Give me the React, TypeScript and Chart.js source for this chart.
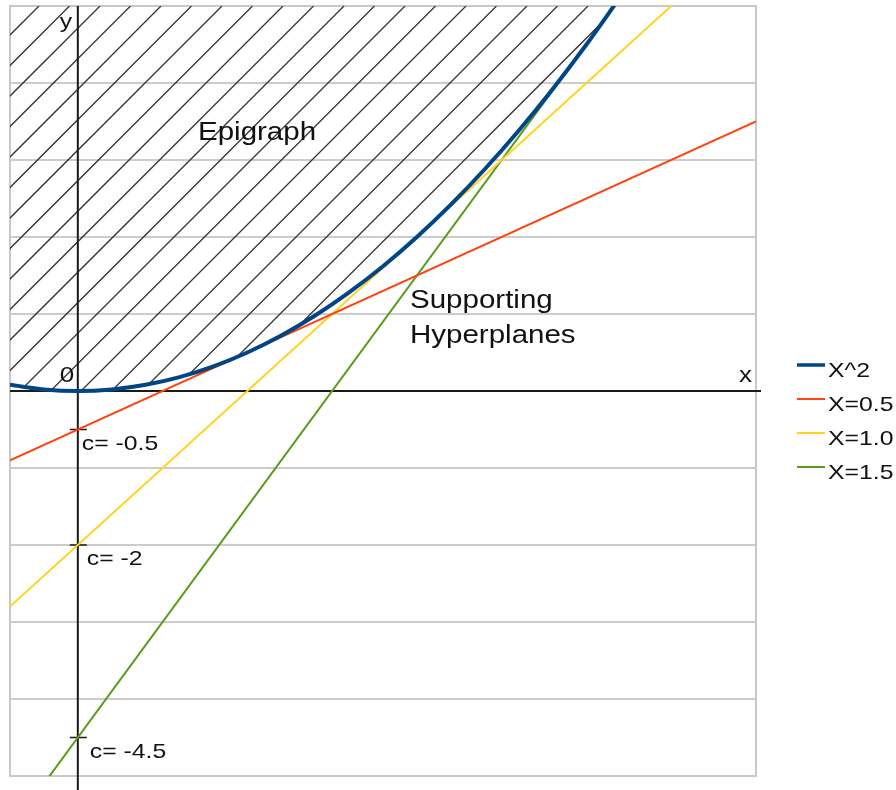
import React, { useEffect, useRef } from "react";
import { Chart, registerables } from "chart.js";

Chart.register(...registerables);

// ---- data ----
const curveX = [-0.2, -0.1, 0, 0.1, 0.2, 0.3, 0.4, 0.5, 0.6, 0.7, 0.8, 0.9, 1.0, 1.1, 1.2, 1.3, 1.4, 1.5, 1.6];
const curveY = [0.08, 0.02, 0, 0.02, 0.08, 0.18, 0.32, 0.5, 0.72, 0.98, 1.28, 1.62, 2.0, 2.42, 2.88, 3.38, 3.92, 4.5, 5.12];
const lineX = [-0.2, 2.0];
const lineY05 = [-0.9, 3.5];
const lineY10 = [-2.8, 6.0];
const lineY15 = [-5.7, 7.5];
const seriesNames = ["X^2", "X=0.5", "X=1.0", "X=1.5"];
const seriesColors = ["#004586", "#ff420e", "#ffd320", "#579d1c"];
const interceptValues = [-0.5, -2, -4.5];
const interceptLabels = ["c= -0.5", "c= -2", "c= -4.5"];
const xRange = [-0.2, 2.0];
const yRange = [-5, 5];

const FONT = '"Liberation Sans", Arial, sans-serif';
const SX = 1.18;

function drawText(ctx: CanvasRenderingContext2D, text: string, x: number, y: number, size: number) {
  ctx.save();
  ctx.font = `${size}px ${FONT}`;
  ctx.fillStyle = "#111";
  ctx.textBaseline = "alphabetic";
  ctx.textAlign = "left";
  ctx.translate(x, y);
  ctx.scale(SX, 1);
  ctx.fillText(text, 0, 0);
  ctx.restore();
}

const decorPlugin = {
  id: "decor",
  beforeDatasetsDraw(chart: any) {
    const ctx: CanvasRenderingContext2D = chart.ctx;
    const { left, right, top, bottom } = chart.chartArea;
    const xs = chart.scales.x;
    const ys = chart.scales.y;

    // plot border
    ctx.save();
    ctx.strokeStyle = "#c8c8c8";
    ctx.lineWidth = 2;
    ctx.strokeRect(left, top, right - left, bottom - top);
    ctx.restore();

    // hatched epigraph
    ctx.save();
    ctx.beginPath();
    ctx.rect(left, top, right - left, bottom - top);
    ctx.clip();
    ctx.beginPath();
    ctx.moveTo(left, top - 5);
    for (let i = 0; i < curveX.length; i++) {
      const px = xs.getPixelForValue(curveX[i]);
      const py = ys.getPixelForValue(curveY[i]);
      ctx.lineTo(px, py);
    }
    ctx.lineTo(xs.getPixelForValue(curveX[curveX.length - 1]), top - 5);
    ctx.closePath();
    ctx.clip();
    ctx.strokeStyle = "#333333";
    ctx.lineWidth = 1.3;
    const spacing = 30.5;
    const c0 = 106;
    for (let k = -20; k < 60; k++) {
      const c = c0 + spacing * k;
      ctx.beginPath();
      ctx.moveTo(c - bottom, bottom);
      ctx.lineTo(c - top, top);
      ctx.stroke();
    }
    ctx.restore();

    // axes lines
    const x0 = xs.getPixelForValue(0);
    const y0 = ys.getPixelForValue(0);
    ctx.save();
    ctx.strokeStyle = "#1a1a1a";
    ctx.lineWidth = 2;
    ctx.beginPath();
    ctx.moveTo(left, y0);
    ctx.lineTo(right + 5, y0);
    ctx.moveTo(x0, top);
    ctx.lineTo(x0, bottom + 14);
    ctx.stroke();
    // intercept tick marks
    ctx.lineWidth = 1.5;
    interceptValues.forEach((v) => {
      const py = ys.getPixelForValue(v);
      ctx.beginPath();
      ctx.moveTo(x0 - 8, py);
      ctx.lineTo(x0 + 9, py);
      ctx.stroke();
    });
    ctx.restore();
  },
  afterDatasetsDraw(chart: any) {
    const ctx: CanvasRenderingContext2D = chart.ctx;
    const { right } = chart.chartArea;
    const xs = chart.scales.x;
    const ys = chart.scales.y;
    const x0 = xs.getPixelForValue(0);
    const y0 = ys.getPixelForValue(0);

    drawText(ctx, "y", x0 - 18, 28, 21);
    drawText(ctx, "0", x0 - 18, y0 - 9, 22);
    drawText(ctx, "x", right - 17, y0 - 9, 22);

    const offs = [4, 9, 12];
    interceptValues.forEach((v, i) => {
      const py = ys.getPixelForValue(v);
      drawText(ctx, interceptLabels[i], x0 + offs[i], py + 20, 21);
    });

    drawText(ctx, "Epigraph", 198, 140, 25);
    drawText(ctx, "Supporting", 410, 308, 25);
    drawText(ctx, "Hyperplanes", 410, 343, 25);

    // legend
    const legY = [365, 399, 433, 467];
    seriesNames.forEach((name, i) => {
      ctx.save();
      ctx.strokeStyle = seriesColors[i];
      ctx.lineWidth = i === 0 ? 3.5 : 2;
      ctx.beginPath();
      ctx.moveTo(797, legY[i]);
      ctx.lineTo(825, legY[i]);
      ctx.stroke();
      ctx.restore();
      drawText(ctx, name, 828, legY[i] + 12, 21);
    });
  },
};

export default function App() {
  const ref = useRef<HTMLCanvasElement | null>(null);
  useEffect(() => {
    if (!ref.current) return;
    const mk = (xv: number[], yv: number[]) => xv.map((x, i) => ({ x, y: yv[i] }));
    const chart = new Chart(ref.current, {
      type: "line",
      data: {
        datasets: [
          {
            label: seriesNames[0],
            data: mk(curveX, curveY),
            borderColor: seriesColors[0],
            borderWidth: 4,
            cubicInterpolationMode: "monotone",
            pointRadius: 0,
            fill: false,
          },
          {
            label: seriesNames[1],
            data: mk(lineX, lineY05),
            borderColor: seriesColors[1],
            borderWidth: 2,
            pointRadius: 0,
            fill: false,
          },
          {
            label: seriesNames[2],
            data: mk(lineX, lineY10),
            borderColor: seriesColors[2],
            borderWidth: 2,
            pointRadius: 0,
            fill: false,
          },
          {
            label: seriesNames[3],
            data: mk(lineX, lineY15),
            borderColor: seriesColors[3],
            borderWidth: 2,
            pointRadius: 0,
            fill: false,
          },
        ],
      },
      options: {
        animation: false,
        responsive: false,
        maintainAspectRatio: false,
        layout: { padding: { left: 10, top: 6, right: 140, bottom: 14 } },
        plugins: { legend: { display: false }, tooltip: { enabled: false } },
        scales: {
          x: {
            type: "linear",
            min: xRange[0],
            max: xRange[1],
            grid: { display: false, drawTicks: false },
            border: { display: false },
            ticks: { display: false },
            afterFit: (s: any) => {
              s.height = 0;
            },
          },
          y: {
            type: "linear",
            min: yRange[0],
            max: yRange[1],
            ticks: { display: false, stepSize: 1 },
            grid: { color: "#cccccc", lineWidth: 2, drawTicks: false },
            border: { display: false },
            afterFit: (s: any) => {
              s.width = 0;
            },
          },
        },
      },
      plugins: [decorPlugin],
    } as any);
    return () => chart.destroy();
  }, []);
  return (
    <div style={{ position: "fixed", left: 0, top: 0, width: 896, height: 790, background: "#fff" }}>
      <canvas ref={ref} width={896} height={790} style={{ display: "block" }} />
    </div>
  );
}
